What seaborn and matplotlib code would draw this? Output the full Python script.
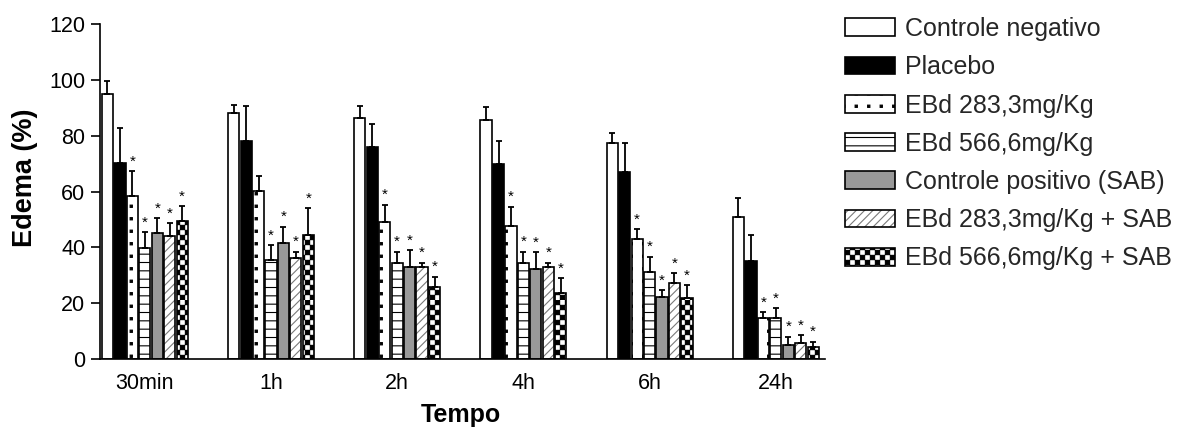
import matplotlib
matplotlib.use("Agg")
import numpy as np
import pandas as pd
import matplotlib.pyplot as plt
import matplotlib.colors as mcolors
import matplotlib.hatch as mhatch
from matplotlib.path import Path
import seaborn as sns

# ---------------- data ----------------
times = ["30min", "1h", "2h", "4h", "6h", "24h"]
groups = ["Controle negativo", "Placebo", "EBd 283,3mg/Kg", "EBd 566,6mg/Kg",
          "Controle positivo (SAB)", "EBd 283,3mg/Kg + SAB", "EBd 566,6mg/Kg + SAB"]

cn_mean = [95.0, 88.0, 86.5, 85.5, 77.5, 51.0]
cn_err = [4.5, 3.0, 4.3, 4.8, 3.6, 6.6]
pla_mean = [70.3, 78.2, 75.8, 69.9, 66.9, 35.1]
pla_err = [12.6, 12.6, 8.4, 8.2, 10.6, 9.3]
e283_mean = [58.4, 60.2, 48.9, 47.7, 42.9, 14.6]
e283_err = [9.0, 5.4, 6.4, 6.9, 3.5, 2.2]
e566_mean = [39.7, 35.5, 34.3, 34.3, 31.3, 14.8]
e566_err = [5.8, 5.4, 4.2, 4.2, 5.4, 3.4]
sab_mean = [45.0, 41.5, 33.1, 32.4, 22.3, 5.0]
sab_err = [5.5, 5.9, 6.0, 6.0, 2.4, 3.0]
e283s_mean = [44.0, 36.1, 33.1, 33.1, 27.1, 5.6]
e283s_err = [4.7, 2.4, 1.4, 1.4, 3.6, 3.0]
e566s_mean = [49.5, 44.5, 25.9, 23.8, 21.7, 4.4]
e566s_err = [5.2, 9.6, 3.6, 5.1, 4.8, 1.8]

# significance marks (*) per group and time
cn_sig = [0, 0, 0, 0, 0, 0]
pla_sig = [0, 0, 0, 0, 0, 0]
e283_sig = [1, 0, 1, 1, 1, 1]
e566_sig = [1, 1, 1, 1, 1, 1]
sab_sig = [1, 1, 1, 1, 1, 1]
e283s_sig = [1, 1, 1, 1, 1, 1]
e566s_sig = [1, 1, 1, 1, 1, 1]

yticks = [0, 20, 40, 60, 80, 100, 120]

means = [cn_mean, pla_mean, e283_mean, e566_mean, sab_mean, e283s_mean, e566s_mean]
errs = [cn_err, pla_err, e283_err, e566_err, sab_err, e283s_err, e566s_err]
sigs = [cn_sig, pla_sig, e283_sig, e566_sig, sab_sig, e283s_sig, e566s_sig]

# ---------------- custom hatches (checkerboard + sparse dots) ----------------
class _SquareGrid(mhatch.HatchPatternBase):
    char = None
    cells = 8
    checker = False
    size = 0.2

    def __init__(self, hatch, density):
        self.rects = []
        if hatch and self.char in hatch:
            n = self.cells
            step = 1.0 / n
            s = self.size * step
            for i in range(n):
                for j in range(n):
                    if self.checker and (i + j) % 2:
                        continue
                    x0 = i * step + (step - s) / 2
                    y0 = j * step + (step - s) / 2
                    self.rects.append((x0, y0, s))
        self.num_vertices = 5 * len(self.rects)

    def set_vertices_and_codes(self, vertices, codes):
        for k, (x0, y0, s) in enumerate(self.rects):
            vertices[5 * k:5 * k + 5] = [(x0, y0), (x0 + s, y0), (x0 + s, y0 + s),
                                         (x0, y0 + s), (x0, y0)]
            codes[5 * k:5 * k + 5] = [Path.MOVETO, Path.LINETO, Path.LINETO,
                                      Path.LINETO, Path.CLOSEPOLY]


class _Checker(_SquareGrid):
    char = "c"
    cells = 20
    checker = True
    size = 0.85


class _Dots(_SquareGrid):
    char = "d"
    cells = 8
    checker = False
    size = 0.18


mhatch._hatch_types.extend([_Checker, _Dots])
mhatch._validate_hatch_pattern = lambda hatch: None

# ---------------- styling ----------------
sns.set_theme(style="ticks")
plt.rcParams["font.family"] = ["Liberation Sans", "DejaVu Sans"]
plt.rcParams["hatch.linewidth"] = 0.8

face_colors = ["white", "black", "white", "white", "#999999", "white", "white"]
hatches = [None, None, "d", "--", None, "////", "c"]
hatch_colors = ["black", "black", "black", "black", "black", "#7a7a7a", "black"]

rows = []
for g, m in zip(groups, means):
    for t, v in zip(times, m):
        rows.append({"Tempo": t, "Edema": v, "Grupo": g})
df = pd.DataFrame(rows)

W, H = 1202, 429
fig = plt.figure(figsize=(W / 100, H / 100), dpi=100)
ax = fig.add_axes([100 / W, 1 - 359 / H, 725 / W, 335 / H])

sns.barplot(data=df, x="Tempo", y="Edema", hue="Grupo", order=times,
            hue_order=groups, palette=face_colors, saturation=1,
            width=0.69, gap=0.1, edgecolor="black", linewidth=1.2,
            errorbar=None, legend=False, ax=ax)

bars = sorted([p for p in ax.patches if p.get_height() > 0], key=lambda p: p.get_x())
ng = len(groups)
for k in range(ng):
    gb = [bars[t * ng + k] for t in range(len(times))]
    for p in gb:
        if hatches[k]:
            p.set_hatch(hatches[k])
        p._hatch_color = mcolors.to_rgba(hatch_colors[k])
    xs = np.array([p.get_x() + p.get_width() / 2 for p in gb])
    tops = np.array([p.get_height() for p in gb])
    e = np.array(errs[k])
    ax.errorbar(xs, tops, yerr=[np.zeros_like(e), e], fmt="none", ecolor="black",
                elinewidth=1.3, capsize=2.5, capthick=1.3, zorder=3)
    for x, tp, ee, s in zip(xs, tops, e, sigs[k]):
        if s:
            ax.text(x, tp + ee + 3.4, "*", ha="center", va="center", fontsize=11,
                    color="black", zorder=4)

ax.set_xlim(-0.355, 5.39)
ax.set_ylim(0, 120)
ax.set_yticks(yticks)
ax.tick_params(axis="y", length=6.5, width=1.2, pad=4, labelsize=15.5, colors="black")
ax.tick_params(axis="x", length=0, pad=10, labelsize=15.5, colors="black")
for side in ["top", "right"]:
    ax.spines[side].set_visible(False)
for side in ["left", "bottom"]:
    ax.spines[side].set_linewidth(1.2)
    ax.spines[side].set_color("black")

ax.set_ylabel("Edema (%)", fontsize=19.5, fontweight="bold", color="black")
ax.set_xlabel("Tempo", fontsize=18, fontweight="bold", color="black")
ax.yaxis.set_label_coords(-0.085, 0.54)
ax.xaxis.set_label_coords(0.498, -0.13)

fig.legend(handles=[bars[k] for k in range(ng)], labels=groups,
           loc="upper left", bbox_to_anchor=(845 / W, 1 - 17 / H),
           frameon=False, fontsize=18, handlelength=2.0, handleheight=0.72,
           handletextpad=0.4, labelspacing=0.57, borderpad=0, borderaxespad=0)

fig.savefig("out.png", dpi=100)
